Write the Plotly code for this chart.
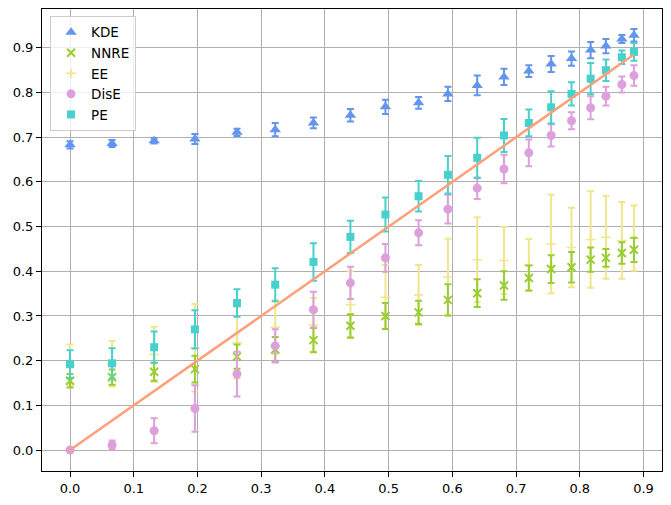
import plotly.graph_objects as go

# x positions shared by every estimator
x = [0.0, 0.066, 0.132, 0.196, 0.262, 0.322, 0.382, 0.44, 0.495, 0.547,
     0.593, 0.639, 0.681, 0.72, 0.755, 0.787, 0.817, 0.841, 0.866, 0.885]

kde = [0.683, 0.686, 0.692, 0.696, 0.711, 0.717, 0.732, 0.749, 0.768, 0.777,
       0.797, 0.816, 0.835, 0.848, 0.864, 0.876, 0.895, 0.904, 0.920, 0.928]
kde_err = [0.008, 0.008, 0.006, 0.011, 0.008, 0.015, 0.012, 0.014, 0.016, 0.013,
           0.016, 0.022, 0.018, 0.013, 0.018, 0.016, 0.018, 0.016, 0.009, 0.014]

nnre = [0.155, 0.163, 0.175, 0.181, 0.209, 0.225, 0.246, 0.278, 0.300, 0.308,
        0.336, 0.351, 0.368, 0.385, 0.405, 0.409, 0.426, 0.430, 0.441, 0.448]
nnre_err = [0.015, 0.017, 0.020, 0.030, 0.027, 0.028, 0.027, 0.026, 0.029, 0.026,
            0.035, 0.031, 0.032, 0.028, 0.031, 0.034, 0.027, 0.020, 0.024, 0.027]

ee = [0.190, 0.193, 0.214, 0.229, 0.240, 0.275, 0.280, 0.325, 0.342, 0.347,
      0.387, 0.426, 0.424, 0.414, 0.461, 0.453, 0.471, 0.476, 0.469, 0.474]
ee_err = [0.046, 0.051, 0.062, 0.098, 0.080, 0.060, 0.060, 0.075, 0.072, 0.067,
          0.086, 0.095, 0.075, 0.058, 0.110, 0.089, 0.108, 0.093, 0.086, 0.073]

dise = [0.0, 0.011, 0.043, 0.093, 0.170, 0.233, 0.314, 0.374, 0.430, 0.486,
        0.539, 0.586, 0.629, 0.665, 0.704, 0.737, 0.766, 0.792, 0.818, 0.838]
dise_err = [0.0, 0.010, 0.028, 0.052, 0.050, 0.037, 0.040, 0.036, 0.031, 0.028,
            0.032, 0.024, 0.032, 0.030, 0.025, 0.019, 0.026, 0.021, 0.018, 0.023]

pe = [0.192, 0.194, 0.230, 0.270, 0.329, 0.370, 0.421, 0.477, 0.527, 0.568,
      0.616, 0.654, 0.704, 0.732, 0.767, 0.797, 0.831, 0.850, 0.879, 0.891]
pe_err = [0.031, 0.034, 0.035, 0.043, 0.031, 0.037, 0.042, 0.036, 0.038, 0.034,
          0.042, 0.045, 0.037, 0.030, 0.036, 0.026, 0.035, 0.024, 0.015, 0.020]

# reference line y = x
ideal = list(x)

ticks = [0.0, 0.1, 0.2, 0.3, 0.4, 0.5, 0.6, 0.7, 0.8, 0.9]
tick_text = ["%.1f" % t for t in ticks]

# (name, values, errors, colour, symbol, size, line width, legend rank) in drawing order
series = [
    ("KDE", kde, kde_err, "cornflowerblue", "triangle-up", 10, 0, 1),
    ("EE", ee, ee_err, "khaki", "cross-thin", 7, 1.5, 3),
    ("NNRE", nnre, nnre_err, "yellowgreen", "x-thin", 8, 2, 2),
    ("DisE", dise, dise_err, "plum", "circle", 9, 0, 4),
    ("PE", pe, pe_err, "mediumturquoise", "square", 8, 0, 5),
]

fig = go.Figure()
for name, vals, errs, colour, symbol, size, lw, rank in series:
    fig.add_trace(go.Scatter(
        x=x, y=vals, name=name, mode="markers", legendrank=rank,
        marker=dict(symbol=symbol, size=size, color=colour,
                    line=dict(color=colour, width=lw)),
        error_y=dict(type="data", array=errs, color=colour, thickness=2, width=3.5),
    ))

fig.add_trace(go.Scatter(x=x, y=ideal, mode="lines", showlegend=False,
                         line=dict(color="lightsalmon", width=2.5)))

axis = dict(showline=True, linecolor="black", linewidth=1, mirror=True,
            ticks="outside", ticklen=5, tickwidth=1, tickcolor="black",
            showgrid=True, gridcolor="#b0b0b0", gridwidth=1, zeroline=False,
            automargin=False, tickvals=ticks, ticktext=tick_text)

# page body has an 8px margin, so the figure is sized to sit inside the window
fig.update_layout(
    width=663, height=497,
    margin=dict(l=34, r=9, t=1, b=34),
    paper_bgcolor="white", plot_bgcolor="white",
    font=dict(family="DejaVu Sans", size=13, color="black"),
    xaxis=dict(range=[-0.044, 0.929], **axis),
    yaxis=dict(range=[-0.047, 0.987], **axis),
    legend=dict(x=0.013, y=0.985, xanchor="left", yanchor="top",
                bgcolor="rgba(255,255,255,0.8)", bordercolor="#cccccc",
                borderwidth=1, font=dict(size=13.5)),
)

fig.write_html("out.html")
